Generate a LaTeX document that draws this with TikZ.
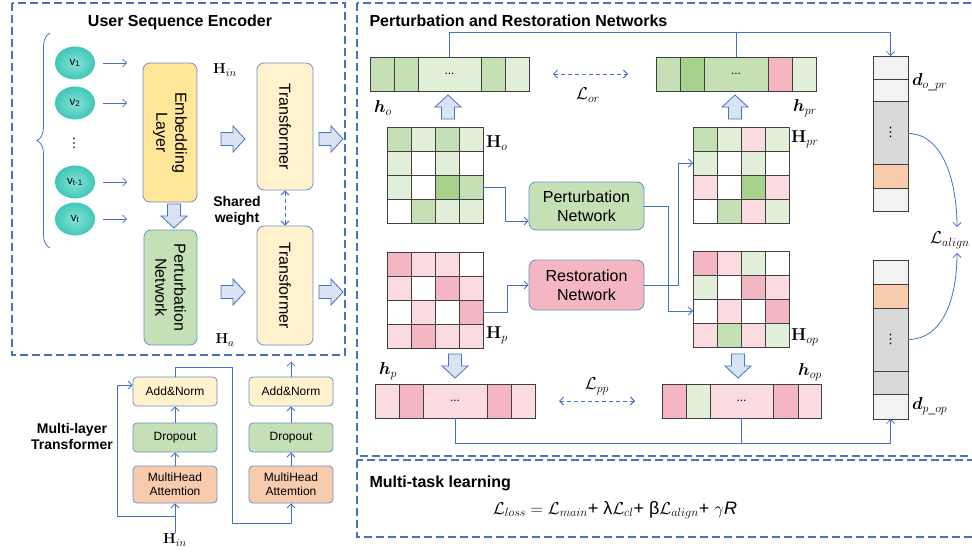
\documentclass[tikz,border=0pt]{standalone}
\usepackage{amsmath}
\usepackage{bm}
\usepackage[no-math]{fontspec}
\setmainfont{Liberation Sans}
\newfontfamily\dotfont{DejaVu Sans}
\usepackage{tikz}
\usetikzlibrary{arrows.meta,shapes.geometric,decorations.pathreplacing,positioning}

\definecolor{lineblue}{HTML}{4472C4}
\definecolor{boxblue}{HTML}{6F8FCB}
\definecolor{arrfill}{HTML}{DAE3F3}
\definecolor{embyellow}{HTML}{FFE699}
\definecolor{trfyellow}{HTML}{FFF2CC}
\definecolor{gA}{HTML}{E2F0D9}
\definecolor{gB}{HTML}{C5E0B4}
\definecolor{gC}{HTML}{A9D18E}
\definecolor{pA}{HTML}{FADBE0}
\definecolor{pB}{HTML}{F4B6C0}
\definecolor{wh}{HTML}{FFFFFF}
\definecolor{oA}{HTML}{F8CBAD}
\definecolor{kA}{HTML}{F2F2F2}
\definecolor{kB}{HTML}{D9D9D9}
\definecolor{tealin}{HTML}{86E3D9}
\definecolor{tealout}{HTML}{3FC7B8}

% 4x4 matrix: left, top, colours row by row
\newcommand{\gridfour}[3]{%
  \foreach \cl [count=\i from 0] in {#3} {
    \pgfmathtruncatemacro{\cx}{mod(\i,4)}
    \pgfmathtruncatemacro{\cy}{\i/4}
    \draw[cell, fill=\cl] ({#1+24*\cx},{#2+24*\cy}) rectangle ++(24,24);
  }}
% horizontal vector: top, bottom, cells left/right/colour
\newcommand{\rowcells}[3]{%
  \foreach \a/\b/\cl in {#3} \draw[cell, fill=\cl] (\a,#1) rectangle (\b,#2);}
% vertical vector: left, right, cells top/bottom/colour
\newcommand{\colcells}[3]{%
  \foreach \a/\b/\cl in {#3} \draw[cell, fill=\cl] (#1,\a) rectangle (#2,\b);}

\begin{document}
\begin{tikzpicture}[x=1pt, y=-1pt,
    dashframe/.style={draw=lineblue, line width=1.2pt, dash pattern=on 8pt off 4pt},
    arr/.style={draw=lineblue, line width=0.8pt, -{Straight Barb[length=4pt,width=8pt]}},
    link/.style={draw=lineblue, line width=0.8pt},
    dashlink/.style={draw=lineblue, line width=1pt, dash pattern=on 4pt off 3pt,
        {Straight Barb[length=4pt,width=8pt]}-{Straight Barb[length=4pt,width=8pt]}},
    encbox/.style={draw=boxblue, line width=0.8pt, rounded corners=7pt, rotate=-90,
        align=center, font=\fontsize{16}{19}\selectfont},
    netbox/.style={draw=boxblue, line width=0.8pt, rounded corners=7pt, align=center,
        minimum width=115, font=\fontsize{16}{19}\selectfont},
    layerbox/.style={draw=boxblue, line width=0.8pt, rounded corners=4pt, align=center,
        minimum width=84, font=\fontsize{12}{14}\selectfont},
    seqitem/.style={ellipse, minimum width=40, minimum height=33, inner sep=0pt,
        shading=radial, inner color=tealin, outer color=tealout,
        font=\fontsize{11.5}{13}\selectfont},
    cell/.style={draw=black!75, line width=0.9pt},
    slot/.style={inner sep=0pt, outer sep=0pt, font=\fontsize{12}{14}\selectfont},
    dotmark/.style={inner sep=0pt, font=\fontsize{13}{15}\selectfont\dotfont},
    ttl/.style={font=\fontsize{16}{19}\selectfont\bfseries},
    note/.style={font=\fontsize{14}{16}\selectfont\bfseries, align=center},
    sym/.style={font=\fontsize{17}{20}\selectfont, inner sep=1pt},
    fat arrow/.pic={\draw[draw=lineblue, fill=arrfill, line width=0.8pt]
        (-12,-6.5) -- (0,-6.5) -- (0,-13) -- (12,0) -- (0,13) -- (0,6.5) -- (-12,6.5) -- cycle;}
]
\useasboundingbox (0,0) rectangle (972,552);

% user sequence encoder
\draw[dashframe] (12,3) rectangle (345,355);
\node[ttl, anchor=base] (enc-title) at (180,26) {User Sequence Encoder};

\node[seqitem] (v1) at (75,63) {v\textsubscript{1}};
\node[seqitem] (v2) at (75,103) {v\textsubscript{2}};
\node[dotmark] (vdots) at (74,143) {⋮};
\node[seqitem] (vt1) at (75,182) {v\textsubscript{t-1}};
\node[seqitem] (vt) at (75,219) {v\textsubscript{t}};
\draw[lineblue, line width=0.8pt, decorate, decoration={brace, amplitude=13pt}] (50,248) -- (50,33);
\foreach \n in {v1,v2,vt1,vt}
    \draw[arr] ([xshift=8pt]\n.east) -- ++(24,0);

\node[encbox, fill=embyellow, minimum width=139, minimum height=54] (emb) at (170,132.5) {Embedding\\Layer};
\node[encbox, fill=gB, minimum width=115, minimum height=53] (pert) at (170.5,287.5) {Perturbation\\Network};
\node[encbox, fill=trfyellow, minimum width=127, minimum height=56] (tr1) at (285,126.5) {Transformer};
\node[encbox, fill=trfyellow, minimum width=119, minimum height=56] (tr2) at (285,285.5) {Transformer};
\draw[dashlink] (tr1) -- (tr2);
\node[note] (shared) at (237,211) {Shared\\weight};
\node[sym, font=\fontsize{15}{18}\selectfont] (Hin) at (225,70) {$\mathbf{H}_{in}$};
\node[sym, font=\fontsize{15}{18}\selectfont] (Ha) at (225,340) {$\mathbf{H}_{a}$};

\pic[rotate=-90] at (174,216) {fat arrow};
\pic at (233,139) {fat arrow};
\pic at (233,292) {fat arrow};
\pic at (331,139) {fat arrow};
\pic at (331,292) {fat arrow};

% multi-layer transformer
\node[note] (mlt) at (72,436) {Multi-layer\\Transformer};
\node[layerbox, fill=trfyellow, minimum height=29] (an1) at (175,391.5) {Add\&Norm};
\node[layerbox, fill=gB, minimum height=29] (do1) at (175,437.5) {Dropout};
\node[layerbox, fill=oA, minimum height=37] (mh1) at (175,484.5) {MultiHead\\Attemtion};
\node[layerbox, fill=trfyellow, minimum height=29] (an2) at (291,391.5) {Add\&Norm};
\node[layerbox, fill=gB, minimum height=29] (do2) at (291,437.5) {Dropout};
\node[layerbox, fill=oA, minimum height=37] (mh2) at (291,484.5) {MultiHead\\Attemtion};
\node[sym, font=\fontsize{15}{18}\selectfont] (hin2) at (175,540) {$\mathbf{H}_{in}$};

\draw[arr] (mh1) -- (do1);
\draw[arr] (do1) -- (an1);
\draw[arr] (mh2) -- (do2);
\draw[arr] (do2) -- (an2);
\draw[arr] (hin2) -- (mh1);
\coordinate (split) at (175,516);
\draw[arr] (split) -- ++(-58,0) |- ([yshift=6.5pt]an1.west);
\draw[arr] (an1.north) -- ++(0,-9) -| (232,523) -| (mh2.south);
\draw[arr] (an2.north) -- ++(0,-15);

% perturbation and restoration networks
\draw[dashframe] (357,3) rectangle (985,456);
\node[ttl, anchor=base west] (prn-title) at (366,26) {Perturbation and Restoration Networks};

\rowcells{57}{91}{370/394/gB, 394/418/gB, 418/481/gA, 481/505/gB, 505/529/gA}
\node[slot, minimum width=159, minimum height=34] (ho) at (449.5,74) {...};
\rowcells{57}{91}{656/680/gB, 680/704/gC, 704/768/gB, 768/792/pB, 792/816/gA}
\node[slot, minimum width=160, minimum height=34] (hpr) at (736,74) {...};
\rowcells{384}{418}{375/399/pA, 399/423/pB, 423/487/pA, 487/511/pB, 511/535/pA}
\node[slot, minimum width=160, minimum height=34] (hp) at (455,401) {...};
\rowcells{384}{418}{662/686/pB, 686/710/gA, 710/773/pA, 773/798/pB, 798/821/pA}
\node[slot, minimum width=159, minimum height=34] (hop) at (741.5,401) {...};

\gridfour{387}{127}{gB,gA,gB,gA, gA,wh,gA,wh, gA,wh,gC,gB, wh,gB,gA,gA}
\node[slot, minimum size=96] (Ho) at (435,175) {};
\gridfour{387}{252}{pB,pA,pA,wh, pA,wh,pB,pA, wh,pA,wh,pB, pA,pB,pA,pA}
\node[slot, minimum size=96] (Hp) at (435,300) {};
\gridfour{693}{127}{gB,gA,pA,gA, gA,wh,gA,wh, pA,wh,gC,pA, wh,gB,pA,gA}
\node[slot, minimum size=96] (Hpr) at (741,175) {};
\gridfour{693}{251}{pB,pA,gA,wh, gA,wh,pB,pA, wh,pA,wh,pB, pA,gB,pA,gA}
\node[slot, minimum size=96] (Hop) at (741,299) {};

\node[netbox, fill=gB, minimum height=48] (pnet) at (586.5,206) {Perturbation\\Network};
\node[netbox, fill=pB, minimum height=50] (rnet) at (586.5,285) {Restoration\\Network};

\draw[arr] ([yshift=-12pt]Ho.east) -- ++(22,0) |- ([yshift=-15pt]pnet.west);
\draw[arr] ([yshift=-12pt]Hp.east) -- ++(24,0) |- (rnet.west);
\draw[arr] (pnet.east) -- ++(24,0) |- ([yshift=-12pt]Hop.west);
\draw[arr] (rnet.east) -- ++(34,0) |- ([yshift=12pt]Hpr.west);

\pic[rotate=90] at (448,107) {fat arrow};
\pic[rotate=90] at (735,107) {fat arrow};
\pic[rotate=-90] at (455,366) {fat arrow};
\pic[rotate=-90] at (738,366) {fat arrow};

\node[sym] (ho-lbl) at (383,108) {$\boldsymbol{h}_{o}$};
\node[sym] (hpr-lbl) at (805,108) {$\boldsymbol{h}_{pr}$};
\node[sym] (hp-lbl) at (388,371) {$\boldsymbol{h}_{p}$};
\node[sym] (hop-lbl) at (810,372) {$\boldsymbol{h}_{op}$};
\node[sym, anchor=west] (Ho-lbl) at (485,143) {$\mathbf{H}_{o}$};
\node[sym, anchor=west] (Hp-lbl) at (485,335) {$\mathbf{H}_{p}$};
\node[sym, anchor=west] (Hpr-lbl) at (790,139) {$\mathbf{H}_{pr}$};
\node[sym, anchor=west] (Hop-lbl) at (790,337) {$\mathbf{H}_{op}$};

\node[sym] (lor) at (588,95) {$\mathcal{L}_{or}$};
\draw[dashlink] ([xshift=24pt]ho.east) -- ([xshift=-28pt]hpr.west);
\node[sym] (lpp) at (597,386) {$\mathcal{L}_{pp}$};
\draw[dashlink] ([xshift=24pt]hp.east) -- ([xshift=-27pt]hop.west);

% alignment vectors
\colcells{873}{908}{56/79/kA, 79/101/kA, 101/164/kB, 164/188/oA, 188/211/kA}
\node[slot, minimum width=35, minimum height=155] (dopr) at (890.5,133.5) {};
\node[dotmark] (dopr-dots) at (890.5,132.5) {⋮};
\colcells{873}{908}{260/284/kA, 284/308/oA, 308/371/kB, 371/394/kB, 394/419/kA}
\node[slot, minimum width=35, minimum height=159] (dpop) at (890.5,339.5) {};
\node[dotmark] (dpop-dots) at (890.5,339.5) {⋮};
\node[sym, anchor=west] (dopr-lbl) at (911,82) {$\boldsymbol{d}_{o\_pr}$};
\node[sym, anchor=west] (dpop-lbl) at (911,406) {$\boldsymbol{d}_{p\_op}$};
\node[sym, anchor=west] (lalign) at (929,240) {$\mathcal{L}_{align}$};
\coordinate (al-top) at (957,227);
\coordinate (al-bot) at (957,253);
\draw[arr] (dopr.east) .. controls +(35,0) and +(0,-45) .. (al-top);
\draw[arr] (dpop.east) .. controls +(35,0) and +(0,45) .. (al-bot);

\draw[arr] (ho.north) -- ++(0,-25) -| (dopr.north);
\draw[link] (hpr.north) -- ++(0,-25);
\draw[arr] (hp.south) -- ++(0,25) -| (dpop.south);
\draw[link] (hop.south) -- ++(0,25);

% multi-task learning
\draw[dashframe] (357,460) rectangle (985,537);
\node[ttl, anchor=base west] (mtl-title) at (366,487) {Multi-task learning};
\node[font=\fontsize{18}{21}\selectfont] (loss) at (615,510)
    {$\mathcal{L}_{loss}=\mathcal{L}_{main}$+ λ$\mathcal{L}_{cl}$+ β$\mathcal{L}_{align}$+ $\gamma$\textit{R}};
\end{tikzpicture}
\end{document}
